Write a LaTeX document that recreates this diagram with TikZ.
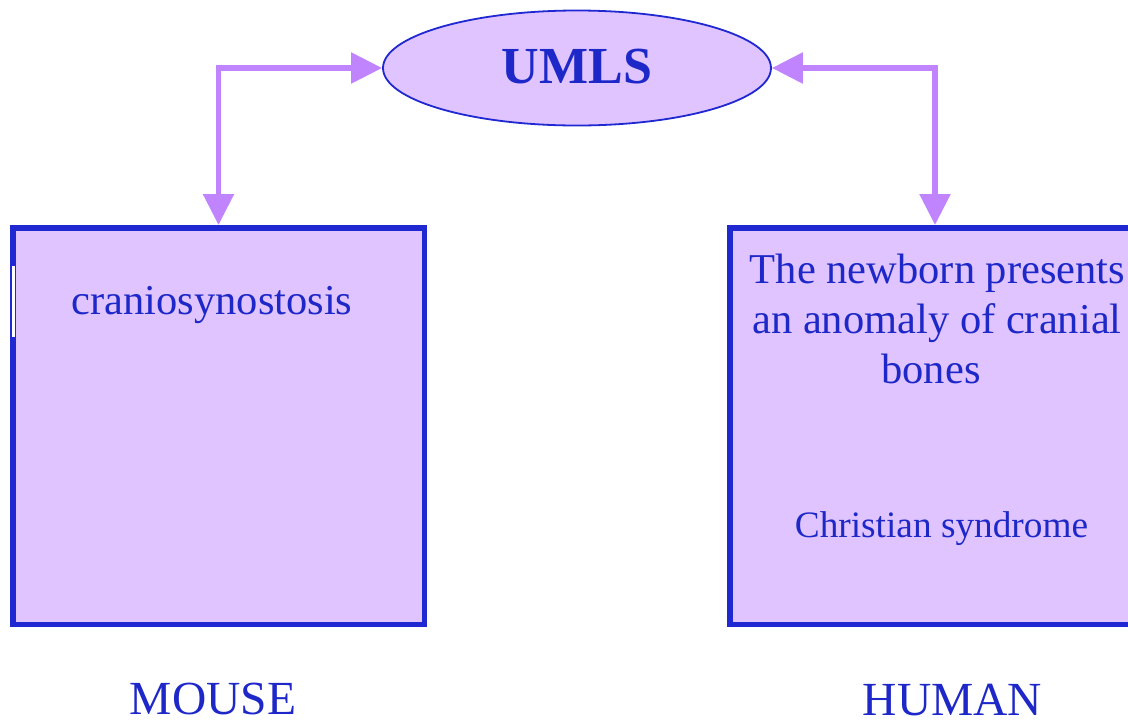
\documentclass[tikz,border=0pt]{standalone}
\usepackage{fontspec}
\setmainfont{Liberation Serif}
\usetikzlibrary{arrows.meta,shapes.geometric}
\definecolor{txtblue}{RGB}{30,40,200}
\definecolor{boxblue}{RGB}{32,40,210}
\definecolor{lav}{RGB}{223,196,255}
\definecolor{arrpurple}{RGB}{192,132,255}
\tikzset{
  box/.style={draw=boxblue, fill=lav, line width=5.5pt, rectangle, inner sep=0pt},
  lbl/.style={text=txtblue, anchor=base, inner sep=0pt},
  link/.style={draw=arrpurple, line width=5.5pt,
    {Triangle[length=31pt,width=30pt]}-{Triangle[length=31pt,width=30pt]}},
}
\begin{document}
\begin{tikzpicture}[x=1pt,y=-1pt]
\clip (0,0) rectangle (1128,721);
\fill[white] (0,0) rectangle (1128,721);
% boxes
\node[box, minimum width=411.5pt, minimum height=396.5pt] (mouse) at (218.5,426) {};
\node[box, minimum width=410.5pt, minimum height=396.5pt] (human) at (935,426) {};
% notch on left edge of mouse box
\fill[white] (11.7,266) rectangle (15.3,337);
\fill[boxblue] (9.5,266) rectangle (11.7,337);
% ellipse
\node[ellipse, draw=boxblue, fill=lav, line width=1.8pt, minimum width=388pt, minimum height=115pt, inner sep=0pt] (umls) at (577,68) {};
\node[lbl, font=\fontsize{52}{60}\selectfont\bfseries] (umlstxt) at (577,83) {UMLS};
% connectors
\draw[link] (mouse.north) |- (umls.west);
\draw[link] (umls.east) -| (human.north);
% texts
\node[lbl, font=\fontsize{42.5}{50}\selectfont] (cranio) at (212,314) {craniosynostosis};
\node[lbl, font=\fontsize{42.5}{50}\selectfont] (h1) at (937.5,283) {The newborn presents};
\node[lbl, font=\fontsize{42.5}{50}\selectfont] (h2) at (937,333) {an anomaly of cranial};
\node[lbl, font=\fontsize{42.5}{50}\selectfont] (h3) at (931,383) {bones};
\node[lbl, font=\fontsize{37.3}{44}\selectfont] (christ) at (941.5,537) {Christian syndrome};
\node[lbl, font=\fontsize{47.5}{54}\selectfont] (mousetxt) at (213,714) {MOUSE};
\node[lbl, font=\fontsize{47.5}{54}\selectfont] (humantxt) at (952.5,715.5) {HUMAN};
\end{tikzpicture}
\end{document}
